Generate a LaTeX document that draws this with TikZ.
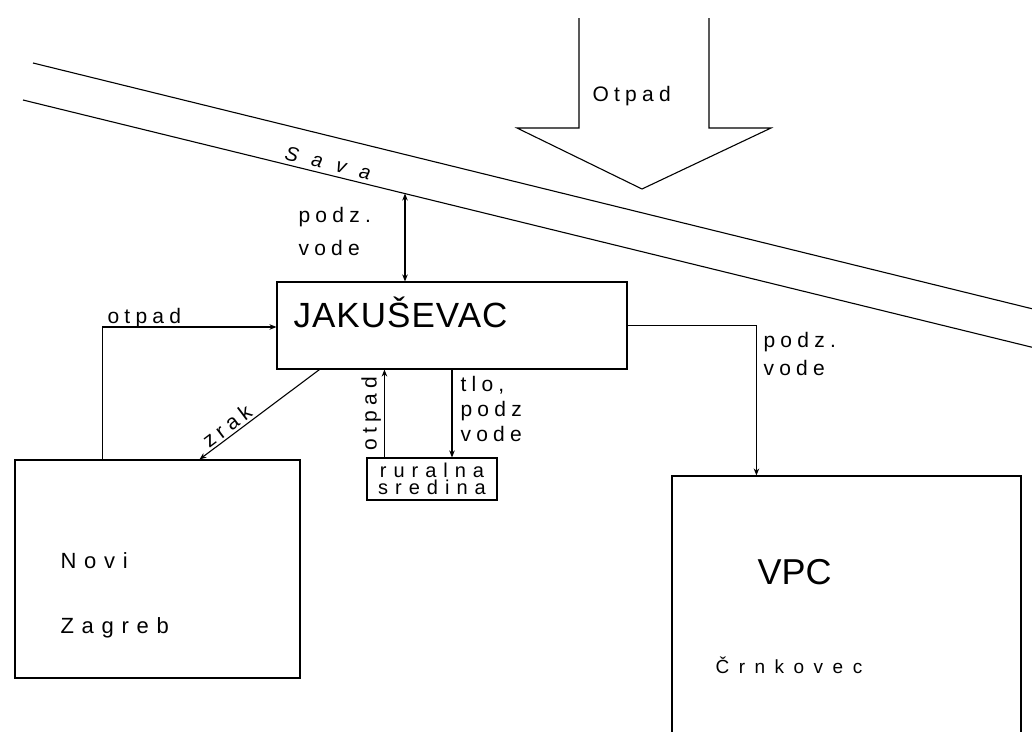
\documentclass[tikz,border=0pt]{standalone}
\usepackage{fontspec}
\setmainfont{Liberation Sans}
\newfontfamily\labfont[LetterSpace=25]{Liberation Sans}
\newfontfamily\nzfont[LetterSpace=35]{Liberation Sans}
\newfontfamily\crnfont[LetterSpace=50]{Liberation Sans}
\newfontfamily\rurfont[LetterSpace=35]{Liberation Sans}
\newfontfamily\jakfont[LetterSpace=3]{Liberation Sans}
\usetikzlibrary{arrows.meta}
\begin{document}
\begin{tikzpicture}[x=1pt,y=-1pt,line width=1.1pt,
  box/.style={draw, rectangle, inner sep=0pt},
  lab/.style={font=\labfont\fontsize{21}{25}\selectfont, inner sep=0pt, anchor=base west},
  biglab/.style={font=\nzfont\fontsize{22}{26}\selectfont, inner sep=0pt, anchor=base west},
  arr/.style={-{Stealth[length=7pt,width=5.5pt]}},
  darr/.style={{Stealth[length=7pt,width=5.5pt]}-{Stealth[length=7pt,width=5.5pt]}}]
\clip (0,0) rectangle (1032,731);
\fill[white] (0,0) rectangle (1032,731);

% river Sava
\draw (33,63) -- (1040,310.7);
\draw (23,100) -- (1040,349.2);
\node[font=\itshape\fontsize{20}{24}\selectfont, rotate=-13.8, inner sep=0pt] (sava) at (328,163)
  {S\hspace{14pt}a\hspace{14pt}v\hspace{14pt}a};

% big input arrow
\draw[line join=miter] (579,18) -- (579,128) -- (517,128) -- (642,189) -- (771,128) -- (709,128) -- (709,18);
\node[lab] (otpadtop) at (592,101) {Otpad};

% boxes
\node[box, minimum width=350pt, minimum height=87pt] (jak) at (452,325.5) {};
\node[font=\jakfont\fontsize{35}{40}\selectfont, inner sep=0pt, anchor=base west] (jakt) at (293,327) {JAKUŠEVAC};

\node[box, minimum width=285pt, minimum height=218pt] (nz) at (157.5,569) {};
\node[biglab] (novi) at (60,568) {Novi};
\node[biglab] (zagreb) at (60,633) {Zagreb};

\node[box, minimum width=349pt, minimum height=284pt] (vpc) at (846.5,618) {};
\node[font=\fontsize{36}{40}\selectfont, inner sep=0pt, anchor=base west] (vpct) at (757,584) {VPC};
\node[font=\crnfont\fontsize{19}{23}\selectfont, inner sep=0pt, anchor=base west] (crn) at (715,673) {Črnkovec};

\node[box, minimum width=130pt, minimum height=42pt, align=center,
      font=\rurfont\fontsize{20}{17}\selectfont] (rur) at (432,479) {ruralna\\sredina};

% Sava <-> Jakusevac
\coordinate (sv) at (405,193.5);
\draw[darr] (sv) -- (sv |- jak.north);
\node[lab] (pv1) at (298,222) {podz.};
\node[lab] (pv2) at (298,255) {vode};

% Novi Zagreb -> Jakusevac (otpad)
\draw[arr] ([xshift=88pt]nz.north west) |- ([yshift=-1.5pt]jak.west);
\node[lab] (otpadl) at (107,323) {otpad};

% Jakusevac -> Novi Zagreb (zrak)
\draw[arr] ([xshift=43pt]jak.south west) -- ([xshift=185pt]nz.north west)
  node[pos=0.72, font=\labfont\fontsize{21}{25}\selectfont, rotate=37, anchor=south, inner sep=2pt] (zrak) {zrak};

% ruralna sredina -> Jakusevac (otpad)
\draw[arr] ([xshift=18pt]rur.north west) -- ([xshift=18pt]rur.north west |- jak.south)
  node[midway, font=\labfont\fontsize{21}{25}\selectfont, rotate=90, anchor=south, inner sep=3pt] (otpadr) {otpad};

% Jakusevac -> ruralna sredina
\draw[arr] (jak.south) -- (jak.south |- rur.north);
\node[lab] (t1) at (460,391) {tlo,};
\node[lab] (t2) at (460,416) {podz};
\node[lab] (t3) at (460,441) {vode};

% Jakusevac -> VPC
\draw[arr] (jak.east) -| ([xshift=85pt]vpc.north west);
\node[lab] (pr1) at (763,347) {podz.};
\node[lab] (pr2) at (763,375) {vode};
\end{tikzpicture}
\end{document}
